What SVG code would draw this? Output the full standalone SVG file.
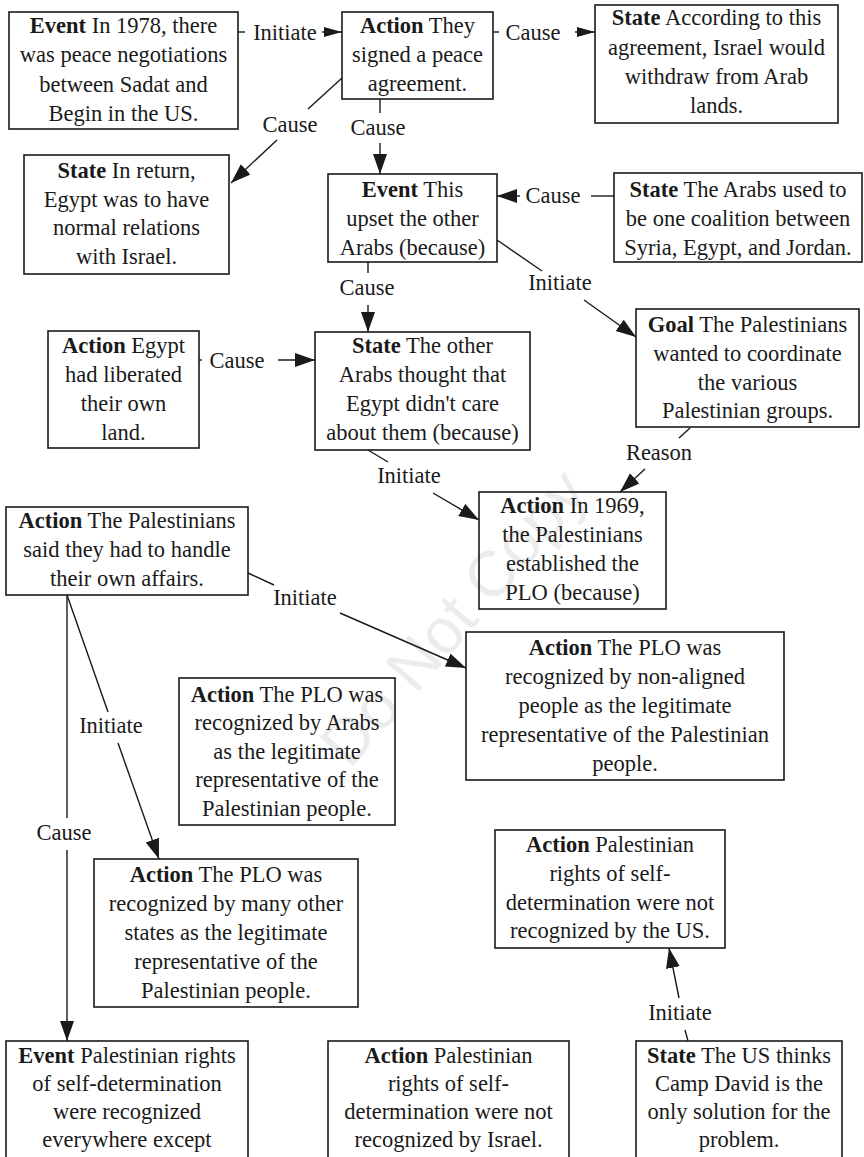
<svg xmlns="http://www.w3.org/2000/svg" width="864" height="1157" viewBox="0 0 864 1157">
<style>
.box{fill:none;stroke:#1a1a1a;stroke-width:1.6}
.t{font-family:"Liberation Serif","Times New Roman",serif;font-size:22.5px;fill:#1a1a1a;text-anchor:middle}
.b{font-weight:bold}
.ln{stroke:#1a1a1a;stroke-width:1.4;fill:none}
.wm{font-family:"Liberation Sans",Arial,sans-serif;font-size:64px;fill:#ececec;text-anchor:middle}
</style>
<defs>
<marker id="ah" markerUnits="userSpaceOnUse" markerWidth="22" markerHeight="16" refX="20" refY="7" orient="auto">
<path d="M0,0 L20,7 L0,14 z" fill="#1a1a1a"/>
</marker>
<marker id="ahs" markerUnits="userSpaceOnUse" markerWidth="20" markerHeight="12" refX="18" refY="5" orient="auto">
<path d="M0,0 L18,5 L0,10 z" fill="#1a1a1a"/>
</marker>
</defs>
<rect width="864" height="1157" fill="#fff"/>
<text class="wm" transform="translate(470,632) rotate(-49)">Do Not Copy</text>

<g id="connectors">
<line class="ln" x1="238" y1="32" x2="245" y2="32"/>
<line class="ln" x1="322" y1="32" x2="342" y2="32" marker-end="url(#ahs)"/>
<text class="t" x="285" y="40">Initiate</text>

<line class="ln" x1="493" y1="32" x2="499" y2="32"/>
<line class="ln" x1="575" y1="32" x2="595" y2="32" marker-end="url(#ahs)"/>
<text class="t" x="533" y="40">Cause</text>

<line class="ln" x1="342" y1="78" x2="308" y2="109"/>
<line class="ln" x1="277" y1="140" x2="231" y2="183" marker-end="url(#ah)"/>
<text class="t" x="290" y="132">Cause</text>

<line class="ln" x1="380" y1="99" x2="380" y2="113"/>
<line class="ln" x1="380" y1="143" x2="380" y2="174" marker-end="url(#ah)"/>
<text class="t" x="378" y="135">Cause</text>

<line class="ln" x1="614" y1="196" x2="591" y2="196"/>
<line class="ln" x1="520" y1="196" x2="497" y2="196" marker-end="url(#ah)"/>
<text class="t" x="553" y="203">Cause</text>

<line class="ln" x1="368" y1="262" x2="368" y2="273"/>
<line class="ln" x1="368" y1="305" x2="368" y2="332" marker-end="url(#ah)"/>
<text class="t" x="367" y="295">Cause</text>

<line class="ln" x1="497" y1="240" x2="542" y2="271"/>
<line class="ln" x1="584" y1="300" x2="636" y2="337" marker-end="url(#ah)"/>
<text class="t" x="560" y="290">Initiate</text>

<line class="ln" x1="199" y1="360" x2="202" y2="360"/>
<line class="ln" x1="278" y1="360" x2="315" y2="360" marker-end="url(#ah)"/>
<text class="t" x="237" y="368">Cause</text>

<line class="ln" x1="368" y1="450" x2="388" y2="462"/>
<line class="ln" x1="433" y1="493" x2="479" y2="520" marker-end="url(#ah)"/>
<text class="t" x="409" y="483">Initiate</text>

<line class="ln" x1="690" y1="428" x2="679" y2="438"/>
<line class="ln" x1="645" y1="469" x2="620" y2="492" marker-end="url(#ah)"/>
<text class="t" x="659" y="460">Reason</text>

<line class="ln" x1="248" y1="573" x2="274" y2="585"/>
<line class="ln" x1="340" y1="613" x2="466" y2="668" marker-end="url(#ah)"/>
<text class="t" x="305" y="605">Initiate</text>

<line class="ln" x1="67" y1="595" x2="108" y2="712"/>
<line class="ln" x1="118" y1="743" x2="159" y2="859" marker-end="url(#ah)"/>
<text class="t" x="111" y="733">Initiate</text>

<line class="ln" x1="67" y1="595" x2="67" y2="818"/>
<line class="ln" x1="67" y1="850" x2="67" y2="1041" marker-end="url(#ah)"/>
<text class="t" x="64" y="840">Cause</text>

<line class="ln" x1="688" y1="1041" x2="685" y2="1030"/>
<line class="ln" x1="679" y1="998" x2="669" y2="948" marker-end="url(#ah)"/>
<text class="t" x="680" y="1020">Initiate</text>
</g>

<g id="n1"><rect class="box" x="9" y="12" width="229" height="117"/>
<text class="t" x="123.5" y="33"><tspan class="b">Event</tspan> In 1978, there</text>
<text class="t" x="123.5" y="62">was peace negotiations</text>
<text class="t" x="123.5" y="92">between Sadat and</text>
<text class="t" x="123.5" y="121">Begin in the US.</text></g>

<g id="n2"><rect class="box" x="342" y="12" width="151" height="87"/>
<text class="t" x="417.5" y="33"><tspan class="b">Action</tspan> They</text>
<text class="t" x="417.5" y="62">signed a peace</text>
<text class="t" x="417.5" y="91">agreement.</text></g>

<g id="n3"><rect class="box" x="595" y="5" width="243" height="118"/>
<text class="t" x="716.5" y="25"><tspan class="b">State</tspan> According to this</text>
<text class="t" x="716.5" y="55">agreement, Israel would</text>
<text class="t" x="716.5" y="84">withdraw from Arab</text>
<text class="t" x="716.5" y="113">lands.</text></g>

<g id="n4"><rect class="box" x="24" y="155" width="205" height="119"/>
<text class="t" x="126.5" y="178"><tspan class="b">State</tspan> In return,</text>
<text class="t" x="126.5" y="207">Egypt was to have</text>
<text class="t" x="126.5" y="235">normal relations</text>
<text class="t" x="126.5" y="264">with Israel.</text></g>

<g id="n5"><rect class="box" x="328" y="174" width="169" height="88"/>
<text class="t" x="412.5" y="197"><tspan class="b">Event</tspan> This</text>
<text class="t" x="412.5" y="226">upset the other</text>
<text class="t" x="412.5" y="255">Arabs (because)</text></g>

<g id="n6"><rect class="box" x="614" y="173" width="248" height="89"/>
<text class="t" x="738" y="197"><tspan class="b">State</tspan> The Arabs used to</text>
<text class="t" x="738" y="226">be one coalition between</text>
<text class="t" x="738" y="255">Syria, Egypt, and Jordan.</text></g>

<g id="n7"><rect class="box" x="48" y="331" width="151" height="117"/>
<text class="t" x="123.5" y="353"><tspan class="b">Action</tspan> Egypt</text>
<text class="t" x="123.5" y="382">had liberated</text>
<text class="t" x="123.5" y="411">their own</text>
<text class="t" x="123.5" y="440">land.</text></g>

<g id="n8"><rect class="box" x="315" y="332" width="215" height="118"/>
<text class="t" x="422.5" y="353"><tspan class="b">State</tspan> The other</text>
<text class="t" x="422.5" y="382">Arabs thought that</text>
<text class="t" x="422.5" y="411">Egypt didn't care</text>
<text class="t" x="422.5" y="440">about them (because)</text></g>

<g id="n9"><rect class="box" x="636" y="309" width="223" height="118"/>
<text class="t" x="747.5" y="332"><tspan class="b">Goal</tspan> The Palestinians</text>
<text class="t" x="747.5" y="361">wanted to coordinate</text>
<text class="t" x="747.5" y="390">the various</text>
<text class="t" x="747.5" y="418">Palestinian groups.</text></g>

<g id="n10"><rect class="box" x="479" y="492" width="187" height="117"/>
<text class="t" x="572.5" y="513"><tspan class="b">Action</tspan> In 1969,</text>
<text class="t" x="572.5" y="542">the Palestinians</text>
<text class="t" x="572.5" y="571">established the</text>
<text class="t" x="572.5" y="600">PLO (because)</text></g>

<g id="n11"><rect class="box" x="6" y="507" width="242" height="88"/>
<text class="t" x="127" y="528"><tspan class="b">Action</tspan> The Palestinians</text>
<text class="t" x="127" y="557">said they had to handle</text>
<text class="t" x="127" y="586">their own affairs.</text></g>

<g id="n12"><rect class="box" x="466" y="632" width="318" height="148"/>
<text class="t" x="625" y="655"><tspan class="b">Action</tspan> The PLO was</text>
<text class="t" x="625" y="684">recognized by non-aligned</text>
<text class="t" x="625" y="713">people as the legitimate</text>
<text class="t" x="625" y="742">representative of the Palestinian</text>
<text class="t" x="625" y="771">people.</text></g>

<g id="n13"><rect class="box" x="179" y="678" width="216" height="147"/>
<text class="t" x="287" y="702"><tspan class="b">Action</tspan> The PLO was</text>
<text class="t" x="287" y="730">recognized by Arabs</text>
<text class="t" x="287" y="759">as the legitimate</text>
<text class="t" x="287" y="787">representative of the</text>
<text class="t" x="287" y="816">Palestinian people.</text></g>

<g id="n14"><rect class="box" x="94" y="859" width="264" height="148"/>
<text class="t" x="226" y="882"><tspan class="b">Action</tspan> The PLO was</text>
<text class="t" x="226" y="911">recognized by many other</text>
<text class="t" x="226" y="940">states as the legitimate</text>
<text class="t" x="226" y="969">representative of the</text>
<text class="t" x="226" y="998">Palestinian people.</text></g>

<g id="n15"><rect class="box" x="495" y="830" width="230" height="118"/>
<text class="t" x="610" y="852"><tspan class="b">Action</tspan> Palestinian</text>
<text class="t" x="610" y="881">rights of self-</text>
<text class="t" x="610" y="910">determination were not</text>
<text class="t" x="610" y="938">recognized by the US.</text></g>

<g id="n16"><rect class="box" x="6" y="1041" width="242" height="130"/>
<text class="t" x="127" y="1063"><tspan class="b">Event</tspan> Palestinian rights</text>
<text class="t" x="127" y="1091">of self-determination</text>
<text class="t" x="127" y="1119">were recognized</text>
<text class="t" x="127" y="1147">everywhere except</text></g>

<g id="n17"><rect class="box" x="328" y="1041" width="241" height="130"/>
<text class="t" x="448.5" y="1063"><tspan class="b">Action</tspan> Palestinian</text>
<text class="t" x="448.5" y="1091">rights of self-</text>
<text class="t" x="448.5" y="1119">determination were not</text>
<text class="t" x="448.5" y="1147">recognized by Israel.</text></g>

<g id="n18"><rect class="box" x="636" y="1041" width="206" height="130"/>
<text class="t" x="739" y="1063"><tspan class="b">State</tspan> The US thinks</text>
<text class="t" x="739" y="1091">Camp David is the</text>
<text class="t" x="739" y="1119">only solution for the</text>
<text class="t" x="739" y="1147">problem.</text></g>
</svg>
